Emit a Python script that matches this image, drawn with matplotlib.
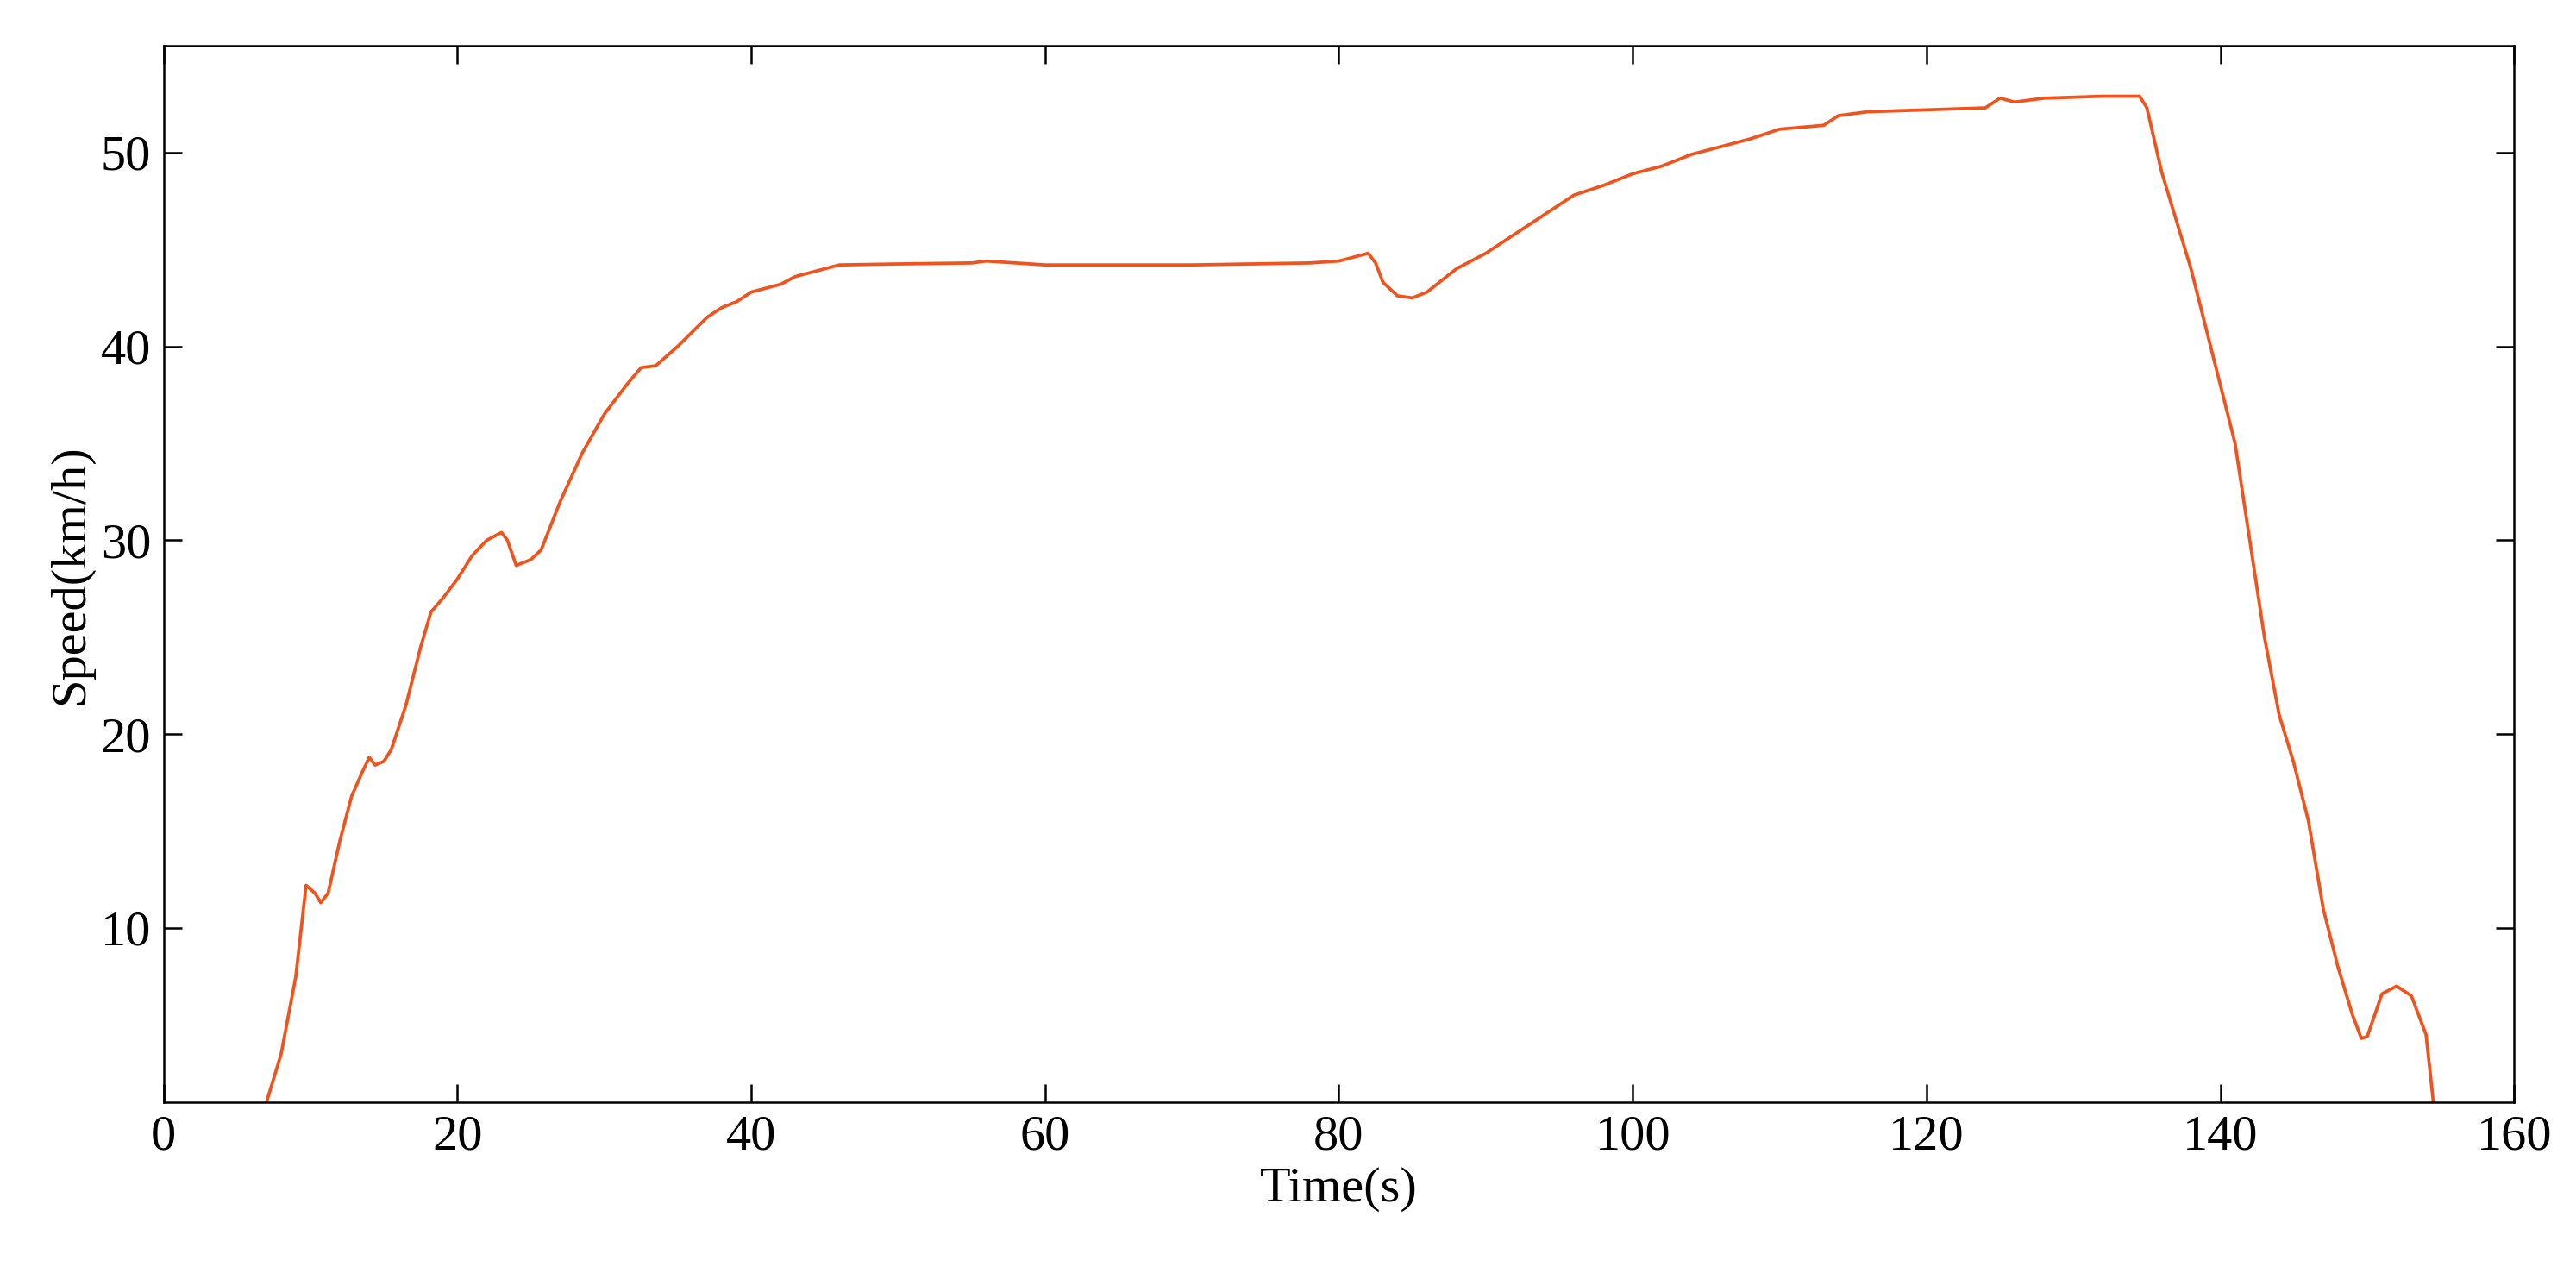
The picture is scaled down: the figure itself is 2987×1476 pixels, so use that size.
import matplotlib.pyplot as plt

# speed trace
time_s = [7, 8, 9, 9.7, 10.3, 10.7, 11.2, 12, 12.8, 13.5, 14, 14.4, 15, 15.5, 16.5, 17.5,
          18.2, 19, 20, 21, 22, 23, 23.4, 24, 25, 25.7, 27, 28.5, 30, 31.5, 32.5, 33.5,
          35, 37, 38, 39, 40, 42, 43, 45, 46, 50, 55, 56, 58, 60, 70, 78, 80, 81, 82,
          82.5, 83, 84, 85, 86, 87, 88, 90, 92, 94, 96, 98, 100, 102, 104, 106, 108,
          110, 113, 114, 116, 120, 124, 125, 126, 128, 132, 134.5, 135, 136, 137, 138,
          139, 140, 141, 142, 143, 144, 145, 146, 147, 148, 149, 149.6, 150, 150.5,
          151, 152, 153, 154, 154.5]
speed_kmh = [1, 3.5, 7.5, 12.2, 11.8, 11.3, 11.8, 14.5, 16.8, 18, 18.8, 18.4, 18.6, 19.2,
             21.5, 24.5, 26.3, 27, 28, 29.2, 30, 30.4, 30, 28.7, 29, 29.5, 32, 34.5, 36.5,
             38, 38.9, 39, 40, 41.5, 42, 42.3, 42.8, 43.2, 43.6, 44, 44.2, 44.25, 44.3,
             44.4, 44.3, 44.2, 44.2, 44.3, 44.4, 44.6, 44.8, 44.3, 43.3, 42.6, 42.5, 42.8,
             43.4, 44, 44.8, 45.8, 46.8, 47.8, 48.3, 48.9, 49.3, 49.9, 50.3, 50.7, 51.2,
             51.4, 51.9, 52.1, 52.2, 52.3, 52.8, 52.6, 52.8, 52.9, 52.9, 52.3, 49, 46.5,
             44, 41, 38, 35, 30, 25, 21, 18.5, 15.5, 11, 8, 5.5, 4.3, 4.4, 5.5, 6.6, 7,
             6.5, 4.5, 1]

plt.rcParams['font.family'] = ['Liberation Serif', 'DejaVu Serif']
plt.rcParams['font.size'] = 14

fig = plt.figure(figsize=(2987 / 300, 1476 / 300), dpi=300)
ax = fig.add_axes([0.0635, 0.134, 0.9125, 0.83])
ax.plot(time_s, speed_kmh, color='#F0531C', linewidth=0.9)
ax.set_xlim(0, 160)
ax.set_ylim(1, 55.5)
ax.set_xticks(range(0, 161, 20))
ax.set_yticks([10, 20, 30, 40, 50])
ax.tick_params(direction='in', top=True, right=True, width=0.6, length=5)
for s in ax.spines.values():
    s.set_linewidth(0.6)
ax.set_xlabel('Time(s)', labelpad=2)
ax.set_ylabel('Speed(km/h)', labelpad=2)

fig.savefig('out.png', dpi=300)
